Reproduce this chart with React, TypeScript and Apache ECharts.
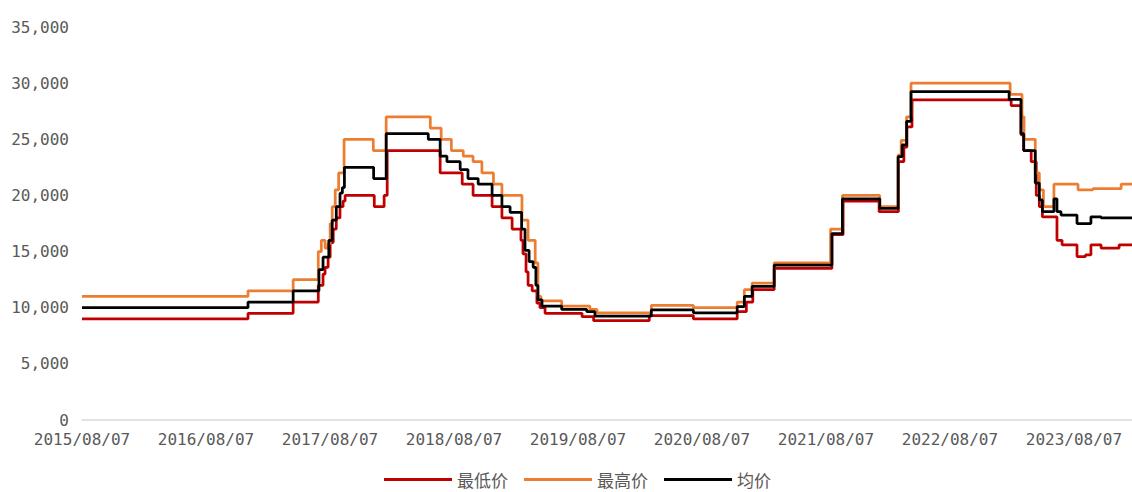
import React, { useEffect, useRef } from "react";
import * as echarts from "echarts";

// [date, value] change points (value holds until the next date)
const LOW: [string, number][] = [
  ["2015-08-07", 9000], ["2016-12-08", 9500], ["2017-04-20", 10500],
  ["2017-07-03", 12000], ["2017-07-17", 13000], ["2017-07-23", 13600],
  ["2017-08-01", 14500], ["2017-08-07", 15800], ["2017-08-16", 17000],
  ["2017-08-25", 18000], ["2017-09-05", 19000], ["2017-09-14", 19500],
  ["2017-09-20", 20000], ["2017-12-15", 19000], ["2018-01-13", 20000],
  ["2018-01-22", 24000], ["2018-06-27", 22000], ["2018-08-31", 21000],
  ["2018-10-02", 20000], ["2018-11-27", 19000], ["2018-12-26", 18000],
  ["2019-01-25", 17000], ["2019-02-20", 16000], ["2019-02-26", 14800],
  ["2019-03-07", 13200], ["2019-03-13", 12000], ["2019-03-25", 11500],
  ["2019-04-08", 10400], ["2019-04-17", 10000], ["2019-05-02", 9500],
  ["2019-08-19", 9200], ["2019-09-22", 8850], ["2020-03-04", 9300],
  ["2020-07-12", 9000], ["2020-11-18", 9650], ["2020-12-15", 10500],
  ["2021-01-03", 11600], ["2021-03-07", 13500], ["2021-08-24", 16500],
  ["2021-09-26", 19500], ["2022-01-10", 18550], ["2022-03-08", 23000],
  ["2022-03-24", 24300], ["2022-04-02", 26100], ["2022-04-17", 28500],
  ["2023-02-03", 28000], ["2023-03-04", 25400], ["2023-03-12", 24000],
  ["2023-04-03", 23000], ["2023-04-18", 20000], ["2023-04-27", 19000],
  ["2023-05-06", 18100], ["2023-06-18", 16000], ["2023-07-03", 15600],
  ["2023-08-16", 14550], ["2023-09-10", 14700], ["2023-09-26", 15600],
  ["2023-10-26", 15300], ["2023-12-18", 15600], ["2024-01-25", 15600],
];

const HIGH: [string, number][] = [
  ["2015-08-07", 11000], ["2016-12-08", 11500], ["2017-04-20", 12500],
  ["2017-07-03", 15000], ["2017-07-12", 16000], ["2017-07-23", 15300],
  ["2017-08-01", 15700], ["2017-08-07", 17500], ["2017-08-13", 19000],
  ["2017-08-22", 20500], ["2017-09-01", 22000], ["2017-09-17", 25000],
  ["2017-12-12", 24000], ["2018-01-19", 27000], ["2018-05-29", 26000],
  ["2018-06-30", 25000], ["2018-07-30", 24000], ["2018-09-03", 23500],
  ["2018-10-02", 23000], ["2018-10-28", 22000], ["2018-12-01", 21000],
  ["2018-12-26", 20000], ["2019-02-23", 17800], ["2019-03-13", 16000],
  ["2019-04-03", 14000], ["2019-04-11", 11000], ["2019-04-20", 10600],
  ["2019-06-20", 10150], ["2019-09-11", 9850], ["2019-10-02", 9550],
  ["2020-03-10", 10200], ["2020-07-12", 10000], ["2020-11-18", 10500],
  ["2020-12-09", 11600], ["2021-01-01", 12200], ["2021-03-07", 14000],
  ["2021-08-20", 17000], ["2021-09-24", 20000], ["2022-01-12", 19000],
  ["2022-03-07", 23600], ["2022-03-16", 24900], ["2022-04-01", 27000],
  ["2022-04-14", 30000], ["2023-01-31", 29000], ["2023-03-07", 27000],
  ["2023-03-13", 25000], ["2023-04-15", 22000], ["2023-04-27", 20500],
  ["2023-05-09", 19000], ["2023-06-09", 21000], ["2023-08-19", 20500],
  ["2023-10-02", 20600], ["2023-12-24", 21000], ["2024-01-25", 21000],
];

const MEAN: [string, number][] = [
  ["2015-08-07", 10000], ["2016-12-08", 10500], ["2017-04-20", 11500],
  ["2017-07-05", 13400], ["2017-07-17", 14500], ["2017-08-03", 16000],
  ["2017-08-13", 17800], ["2017-08-25", 19000], ["2017-09-05", 20200],
  ["2017-09-12", 20700], ["2017-09-18", 22500], ["2017-12-13", 21500],
  ["2018-01-19", 25500], ["2018-05-23", 25000], ["2018-06-27", 23500],
  ["2018-07-17", 23000], ["2018-08-25", 22300], ["2018-09-17", 21500],
  ["2018-10-17", 21000], ["2018-11-27", 20000], ["2018-12-26", 19000],
  ["2019-01-19", 18500], ["2019-02-22", 17000], ["2019-03-04", 15100],
  ["2019-03-16", 14100], ["2019-03-28", 13600], ["2019-04-05", 12000],
  ["2019-04-11", 10700], ["2019-04-23", 10150], ["2019-06-20", 9850],
  ["2019-09-02", 9650], ["2019-09-26", 9250], ["2020-03-10", 9800],
  ["2020-07-12", 9550], ["2020-11-18", 10100], ["2020-12-09", 11000],
  ["2021-01-01", 11900], ["2021-03-07", 13800], ["2021-08-24", 16600],
  ["2021-09-24", 19700], ["2022-01-12", 18850], ["2022-03-07", 23450],
  ["2022-03-19", 24500], ["2022-04-01", 26600], ["2022-04-14", 29250],
  ["2023-01-28", 28550], ["2023-03-04", 25500], ["2023-03-12", 24000],
  ["2023-04-15", 21100], ["2023-04-27", 19600], ["2023-05-06", 18550],
  ["2023-06-09", 19700], ["2023-06-18", 18550], ["2023-06-30", 18250],
  ["2023-08-16", 17500], ["2023-09-26", 18100], ["2023-10-26", 18000],
  ["2024-01-25", 18000],
];

const SERIES_NAMES = ["最低价", "最高价", "均价"];
const SERIES_COLORS = ["#C00000", "#ED7D31", "#000000"];
const START_DATE = "2015-08-07";
const END_DATE = "2024-01-25";

const toUTC = (s: string) => {
  const [y, m, d] = s.split("-").map(Number);
  return Date.UTC(y, m - 1, d);
};
const dayOf = (s: string) => (toUTC(s) - toUTC(START_DATE)) / 86400000;
const YEAR = 365.25;

const MONO = '"DejaVu Sans Mono", monospace';
const CJK = '"Noto Sans CJK SC", "Noto Sans", sans-serif';

export default function App() {
  const ref = useRef<HTMLDivElement>(null);
  useEffect(() => {
    if (!ref.current) return;
    const chart = echarts.init(ref.current, undefined, { renderer: "svg" });
    const all = [LOW, HIGH, MEAN];
    chart.setOption({
      animation: false,
      backgroundColor: "#ffffff",
      grid: { left: 82, right: 0, top: 27, bottom: 72, containLabel: false },
      legend: {
        data: SERIES_NAMES,
        left: 379,
        top: 466,
        icon: "rect",
        itemWidth: 68,
        itemHeight: 3,
        itemGap: 16,
        textStyle: { fontFamily: CJK, fontSize: 17, color: "#595959" },
      },
      xAxis: {
        type: "value",
        min: 0,
        max: dayOf(END_DATE),
        interval: YEAR,
        splitLine: { show: false },
        axisTick: { show: false },
        axisLine: { show: true, lineStyle: { color: "#d9d9d9", width: 1.5 } },
        axisLabel: {
          showMaxLabel: false,
          margin: 11,
          fontFamily: MONO,
          fontSize: 16,
          color: "#595959",
          formatter: (v: number) => {
            const n = v / YEAR;
            if (Math.abs(n - Math.round(n)) > 0.01) return "";
            return `${2015 + Math.round(n)}/08/07`;
          },
        },
      },
      yAxis: {
        type: "value",
        min: 0,
        max: 35000,
        interval: 5000,
        splitLine: { show: false },
        axisLine: { show: false },
        axisTick: { show: false },
        axisLabel: {
          margin: 13,
          fontFamily: MONO,
          fontSize: 16,
          color: "#595959",
          formatter: (v: number) => v.toLocaleString("en-US"),
        },
      },
      series: all.map((d, i) => ({
        name: SERIES_NAMES[i],
        type: "line",
        step: "end",
        showSymbol: false,
        symbol: "none",
        color: SERIES_COLORS[i],
        lineStyle: { width: 2.75, color: SERIES_COLORS[i] },
        data: d.map(([date, v]) => [dayOf(date), v]),
      })),
    });
    return () => chart.dispose();
  }, []);
  return (
    <div
      ref={ref}
      style={{ position: "absolute", left: 0, top: 0, width: 1132, height: 492 }}
    />
  );
}
